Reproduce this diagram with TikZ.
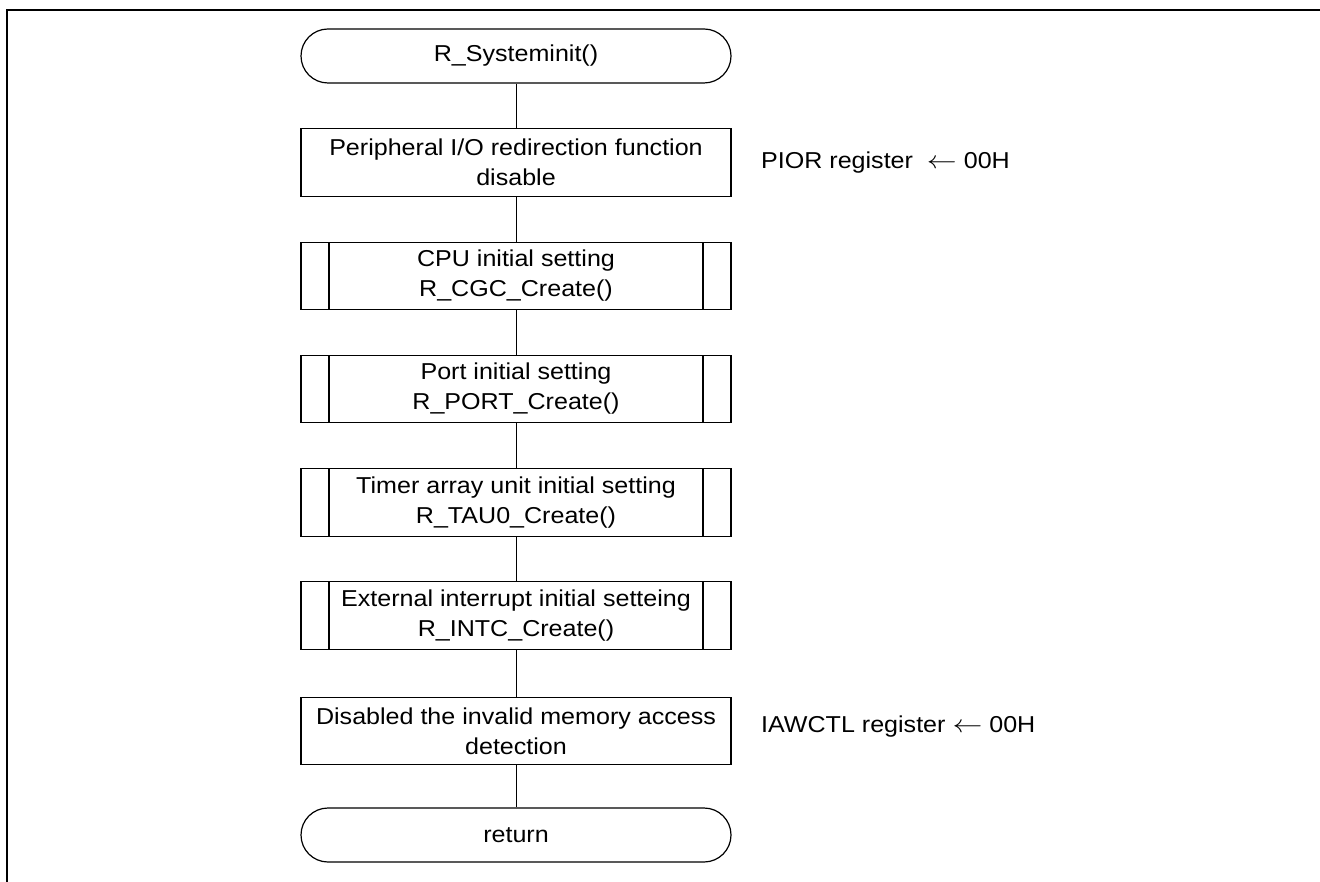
\documentclass[tikz,border=0pt]{standalone}
\usepackage{fontspec}
\usepackage{graphicx}
\setmainfont{Liberation Sans}[FakeStretch=1.09]
\usetikzlibrary{positioning}
\newcommand{\myarrow}{\raisebox{0.5pt}{\scalebox{1.2}[1]{$\leftarrow$}}}
\begin{document}
\begin{tikzpicture}[x=1pt,y=1pt,
  base/.style={draw=black,line width=1.2pt,minimum width=430pt,align=center,inner sep=0pt,font=\fontsize{23}{30}\selectfont},
  term/.style={base,rounded corners=27pt,minimum height=54pt},
  proc/.style={base,minimum height=67.5pt},
  sub/.style={proc,path picture={
      \draw[line width=1.2pt] ([xshift=28pt]path picture bounding box.north west) -- ([xshift=28pt]path picture bounding box.south west);
      \draw[line width=1.2pt] ([xshift=-28pt]path picture bounding box.north east) -- ([xshift=-28pt]path picture bounding box.south east);}},
  note/.style={anchor=west,inner sep=0pt,font=\fontsize{23}{30}\selectfont},
  link/.style={draw=black,line width=1pt}]
\useasboundingbox (0,0) rectangle (1320,-882);
\draw[line width=2pt] (7,-882) -- (7,-10) -- (1320,-10);
\node[term] (start) at (516,-56) {R\_Systeminit()};
\node[proc] (pior) at (516,-162.5) {Peripheral I/O redirection function\\disable};
\node[sub] (cpu) at (516,-276) {CPU initial setting\\R\_CGC\_Create()};
\node[sub] (port) at (516,-389) {Port initial setting\\R\_PORT\_Create()};
\node[sub] (tau) at (516,-502.5) {Timer array unit initial setting\\R\_TAU0\_Create()};
\node[sub] (intc) at (516,-615.5) {External interrupt initial setteing\\R\_INTC\_Create()};
\node[proc] (iaw) at (516,-731) {Disabled the invalid memory access\\detection};
\node[term] (ret) at (516,-835) {return};
\node[note] (n1) at (761,-163) {PIOR register\ \ \myarrow\ 00H};
\node[note] (n2) at (761,-727) {IAWCTL register \myarrow\ 00H};
\draw[link] (start) -- (pior);
\draw[link] (pior) -- (cpu);
\draw[link] (cpu) -- (port);
\draw[link] (port) -- (tau);
\draw[link] (tau) -- (intc);
\draw[link] (intc) -- (iaw);
\draw[link] (iaw) -- (ret);
\end{tikzpicture}
\end{document}
